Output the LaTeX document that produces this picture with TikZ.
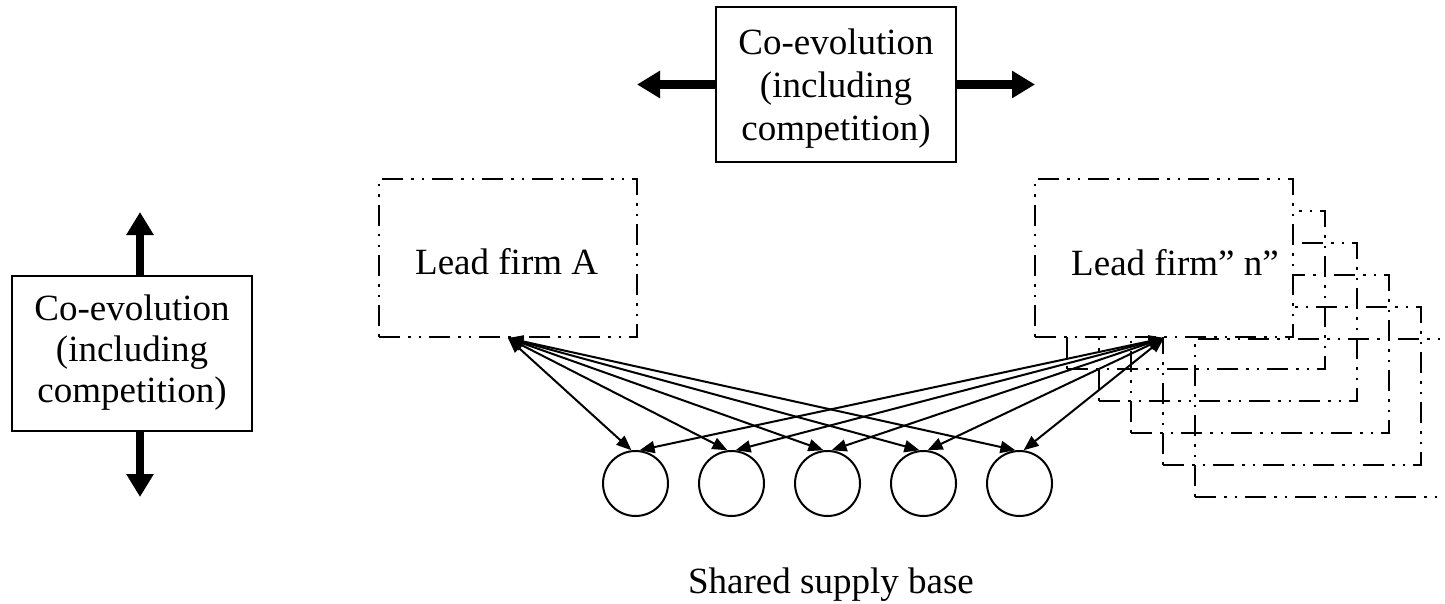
\documentclass[tikz,border=0pt]{standalone}
\usepackage{fontspec}
\setmainfont{Liberation Serif}
\usetikzlibrary{arrows.meta,calc}
\begin{document}
\begin{tikzpicture}[x=1pt,y=-1pt,
  txt/.style={font=\fontsize{37}{41}\selectfont, inner sep=0pt},
  coevo/.style={draw, line width=2pt, fill=white, minimum width=240pt, minimum height=155pt,
    inner sep=0pt, align=center, font=\fontsize{37}{41}\selectfont},
  firm/.style={draw, line width=2.2pt,
    dash pattern=on 21pt off 8pt on 2.5pt off 8pt on 2.5pt off 8pt,
    minimum width=258pt, minimum height=158pt, inner sep=0pt},
  supplier/.style={circle, draw, line width=2pt, minimum size=65pt, inner sep=0pt},
  link/.style={line width=2pt, {Triangle[length=15pt,width=12pt]}-{Triangle[length=15pt,width=12pt]}},
  bigarrow/.style={line width=8.5pt, -{Triangle[length=23pt,width=26pt]}}]
\useasboundingbox (0,0) rectangle (1445,604);

% co-evolution boxes with their thick arrows
\node[coevo] (top) at (836,84.5) {};
\node[txt, align=center, font=\fontsize{37}{43}\selectfont] (toptext) at (836,89)
  {Co-evolution\\(including\\competition)};
\node[coevo] (side) at (132,353) {Co-evolution\\(including\\competition)};
\coordinate (tl) at (637,84.5);
\coordinate (tr) at (1035,84.5);
\coordinate (su) at (140,212);
\coordinate (sd) at (140,497);
\draw[bigarrow] (top.west) -- (tl);
\draw[bigarrow] (top.east) -- (tr);
\draw[bigarrow] (su |- side.north) -- (su);
\draw[bigarrow] (sd |- side.south) -- (sd);

% lead firm A
\node[firm, fill=white] (A) at (508,258) {};
\node[txt, anchor=base west] (Atext) at (415,274) {Lead firm A};

% stack of further lead firms behind lead firm n
\foreach \k in {5,4,3,2,1} {
  \node[firm] (N\k) at ({1164+32*\k},{258+32*\k}) {};
}
\node[firm, fill=white] (N) at (1164,258) {};
\node[txt, anchor=base west] (Ntext) at (1071,275) {Lead firm” n”};

% shared supply base
\foreach \i in {1,...,5} {
  \node[supplier] (s\i) at ({539.5+96*\i},483.5) {};
}
\node[txt, anchor=base] (base) at (831,593) {Shared supply base};

% links between lead firms and suppliers
\foreach \i in {1,...,5} {
  \draw[link] (A.south) -- (s\i.97);
  \draw[link] (N.south) -- (s\i.83);
}
\end{tikzpicture}
\end{document}
